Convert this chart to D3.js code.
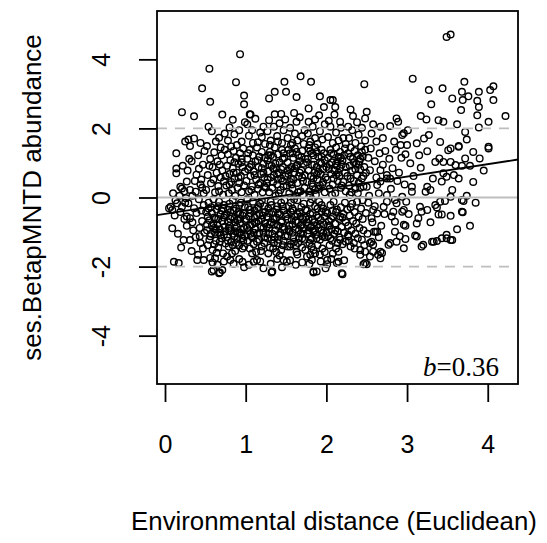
<!DOCTYPE html>
<html lang="en">
<head>
<meta charset="UTF-8">
<title>ses.BetapMNTD vs environmental distance</title>
<script src="https://cdn.jsdelivr.net/npm/d3@7"></script>
<style>
  body { margin: 0; background: #fff; }
  svg { display: block; }
  .tick-label, .axis-title { font-family: "Liberation Sans", Arial, sans-serif; fill: #000; }
  .pt { fill: none; stroke: #000; stroke-width: 1.4px; }
</style>
</head>
<body>
<svg id="chart" width="547" height="543"></svg>
<script>
// environmental distance (x) vs ses.BetapMNTD (y), grouped by x band
var band00 = [[0.14,1.28],[0.14,0.84],[0.14,0.70],[0.19,0.31],[0.21,0.26],[0.27,0.46],[0.07,-0.27],[0.09,-0.36],[0.05,-0.31],[0.15,-0.17],[0.21,-0.27],[0.09,-0.89],[0.23,-1.23],[0.11,-1.86],[0.17,-1.90],[0.21,2.47],[0.12,-0.52],[0.18,0.05],[0.24,-0.62],[0.16,-1.05],[0.22,0.92],[0.10,0.12],[0.25,1.62],[0.19,-0.42],[0.13,-0.08],[0.24,0.18],[0.20,-1.45],[0.25,-0.15]];
var band025 = [[0.29,1.68],[0.36,1.71],[0.44,1.58],[0.31,1.49],[0.36,2.35],[0.46,3.16],[0.44,0.38],[0.31,0.22],[0.38,0.17],[0.29,-0.17],[0.36,-0.31],[0.27,-0.55],[0.31,-0.60],[0.31,-1.23],[0.40,-1.81],[0.48,-1.81],
  [0.33,1.05],[0.41,1.22],[0.47,0.95],[0.28,0.78],[0.39,0.66],[0.45,0.52],[0.34,0.05],[0.42,-0.05],[0.48,-0.22],[0.26,-0.02],[0.39,-0.45],[0.46,-0.68],[0.43,-0.88],[0.35,-0.95],[0.49,-1.02],[0.38,-1.15],[0.44,-1.32],[0.47,-1.48],[0.33,-1.55],[0.41,-1.66],[0.27,-0.82],[0.48,0.12],[0.45,-0.38],[0.37,0.48],[0.42,0.83],[0.30,1.12],[0.49,1.35],[0.34,-0.72],[0.43,-1.12],[0.46,0.28]];
var band05 = [[0.55,3.73],[0.56,2.77],[0.71,2.40],[0.52,1.49],[0.69,1.45],[0.67,1.73],[0.62,-1.76],[0.58,-2.14],[0.67,-2.19],[0.71,-2.10],[0.60,-2.10],[0.68,-2.17],
  [0.58,1.92],[0.63,1.62],[0.74,1.85],[0.54,2.05],
  [0.51,0.22],[0.53,0.65],[0.56,1.12],[0.57,0.41],[0.59,0.88],[0.61,1.31],[0.62,0.15],[0.64,0.72],[0.65,1.05],[0.66,0.33],[0.68,0.95],[0.69,0.58],[0.70,1.22],[0.72,0.08],[0.73,0.47],[0.74,1.38],[0.55,0.92],[0.60,0.52],[0.67,0.18],[0.71,0.78],
  [0.51,-0.42],[0.52,-0.95],[0.53,-1.38],[0.54,-0.15],[0.55,-0.66],[0.56,-1.12],[0.57,-0.28],[0.58,-0.81],[0.59,-1.52],[0.60,-0.05],[0.61,-0.58],[0.62,-1.02],[0.63,-1.25],[0.64,-0.35],[0.65,-0.78],[0.66,-1.45],[0.67,-0.12],[0.68,-0.92],[0.69,-0.48],[0.70,-1.18],[0.71,-0.69],[0.72,-1.62],[0.73,-0.22],[0.74,-0.85],[0.75,-1.33],[0.53,-0.55],[0.57,-1.05],[0.61,-0.88],[0.64,-1.60],[0.66,-0.25],[0.70,-0.38],[0.73,-1.08],[0.56,-1.75],[0.63,-0.62],[0.68,-1.28],[0.74,-0.52],
  [0.59,-1.88],[0.65,-1.95],[0.73,-1.85]];
var band075 = [[0.93,4.15],[0.88,3.34],[0.98,2.95],[0.98,2.70],[0.80,2.03],[0.86,1.83],[0.89,1.52],[0.77,-1.71],[0.81,-1.81],[0.96,-1.86],
  [0.78,1.65],[0.84,2.25],[0.92,1.95],[0.95,1.62],[0.99,2.18],[0.82,1.48],
  [0.76,0.35],[0.77,0.92],[0.78,1.25],[0.79,0.12],[0.80,0.68],[0.81,1.08],[0.82,0.45],[0.83,0.22],[0.84,0.85],[0.85,1.35],[0.86,0.55],[0.87,0.05],[0.88,1.15],[0.89,0.72],[0.90,0.28],[0.91,0.98],[0.92,0.42],[0.93,1.28],[0.94,0.62],[0.95,0.15],[0.96,0.88],[0.97,1.42],[0.98,0.35],[0.99,0.75],[0.80,0.38],[0.86,1.02],[0.91,0.58],[0.95,1.12],
  [0.76,-0.48],[0.77,-1.15],[0.78,-0.72],[0.79,-1.42],[0.80,-0.18],[0.81,-0.95],[0.82,-1.28],[0.83,-0.55],[0.84,-0.08],[0.85,-1.05],[0.86,-0.62],[0.87,-1.55],[0.88,-0.32],[0.89,-0.85],[0.90,-1.18],[0.91,-0.42],[0.92,-1.38],[0.93,-0.75],[0.94,-0.15],[0.95,-1.08],[0.96,-0.52],[0.97,-1.25],[0.98,-0.88],[0.99,-0.28],[0.78,-0.35],[0.83,-1.62],[0.87,-0.98],[0.90,-0.65],[0.93,-1.02],[0.97,-0.45],[0.79,-0.88],[0.85,-0.38],[0.92,-0.22],[0.96,-1.48],[0.99,-1.12],[0.81,-0.62],[0.88,-1.32],[0.94,-0.92],
  [0.85,-1.92],[0.92,-1.78],[0.98,-2.02]];
var band10 = [[1.06,2.40],[1.05,2.41],[1.04,1.79],[1.10,-1.86],[1.14,-1.81],[1.15,1.60],[1.20,1.75],
  [1.02,2.12],[1.08,1.95],[1.12,2.28],[1.18,1.88],[1.22,2.05],[1.24,1.55],[1.09,1.58],
  [1.01,0.48],[1.02,1.12],[1.03,0.82],[1.04,0.18],[1.05,1.38],[1.06,0.62],[1.07,0.95],[1.08,0.32],[1.09,1.22],[1.10,0.75],[1.11,0.08],[1.12,1.05],[1.13,0.52],[1.14,1.45],[1.15,0.25],[1.16,0.88],[1.17,1.18],[1.18,0.42],[1.19,0.68],[1.20,1.32],[1.21,0.15],[1.22,0.98],[1.23,0.58],[1.24,1.15],[1.03,1.28],[1.07,0.22],[1.11,0.65],[1.16,0.38],[1.20,0.85],[1.23,0.32],
  [1.01,-0.62],[1.02,-1.25],[1.03,-0.28],[1.04,-0.95],[1.05,-1.48],[1.06,-0.45],[1.07,-1.12],[1.08,-0.78],[1.09,-0.12],[1.10,-1.35],[1.11,-0.58],[1.12,-0.92],[1.13,-1.58],[1.14,-0.32],[1.15,-1.05],[1.16,-0.68],[1.17,-1.22],[1.18,-0.18],[1.19,-0.85],[1.20,-1.42],[1.21,-0.52],[1.22,-1.02],[1.23,-0.25],[1.24,-0.75],[1.02,-0.05],[1.05,-0.82],[1.08,-1.62],[1.11,-0.38],[1.14,-1.28],[1.17,-0.48],[1.20,-0.08],[1.23,-1.15],[1.06,-1.05],[1.13,-0.72],[1.19,-1.55],[1.24,-0.42],
  [1.04,-1.95],[1.18,-1.85],[1.22,-2.05]];
var band125 = [[1.36,3.06],[1.29,2.87],[1.36,2.41],[1.29,2.24],[1.33,-2.14],[1.32,-2.17],[1.47,-1.81],[1.51,-1.86],[1.48,3.35],[1.50,3.06],[1.49,2.26],
  [1.27,1.92],[1.31,1.65],[1.35,2.05],[1.39,1.78],[1.42,2.15],[1.45,1.58],[1.47,1.95],[1.30,1.52],[1.40,1.62],[1.44,2.42],
  [1.26,0.42],[1.27,1.08],[1.28,0.75],[1.29,0.15],[1.30,1.32],[1.31,0.58],[1.32,0.92],[1.33,0.28],[1.34,1.18],[1.35,0.65],[1.36,1.45],[1.37,0.05],[1.38,0.85],[1.39,0.38],[1.40,1.25],[1.41,0.72],[1.42,1.02],[1.43,0.22],[1.44,0.55],[1.45,1.38],[1.46,0.88],[1.47,0.32],[1.48,1.15],[1.49,0.62],[1.27,0.52],[1.31,1.22],[1.34,0.45],[1.37,0.98],[1.41,0.12],[1.44,0.82],[1.47,1.28],[1.29,0.95],[1.39,0.68],[1.46,0.48],
  [1.26,-0.55],[1.27,-1.18],[1.28,-0.32],[1.29,-0.88],[1.30,-1.45],[1.31,-0.12],[1.32,-0.72],[1.33,-1.05],[1.34,-0.42],[1.35,-1.32],[1.36,-0.62],[1.37,-0.95],[1.38,-1.58],[1.39,-0.25],[1.40,-0.82],[1.41,-1.22],[1.42,-0.48],[1.43,-1.02],[1.44,-0.15],[1.45,-0.68],[1.46,-1.38],[1.47,-0.38],[1.48,-0.92],[1.49,-1.12],[1.28,-1.62],[1.32,-0.22],[1.36,-1.15],[1.40,-0.45],[1.44,-1.52],[1.48,-0.08],[1.30,-0.78],[1.38,-0.58],[1.46,-0.85],[1.34,-1.48],[1.42,-1.68],
  [1.31,-1.92],[1.39,-1.78],[1.45,-2.02]];
var band15 = [[1.68,3.51],[1.63,2.91],[1.63,2.19],
  [1.52,1.72],[1.55,2.02],[1.58,1.58],[1.61,1.85],[1.64,1.65],[1.67,2.32],[1.70,1.78],[1.73,1.95],[1.56,1.52],[1.72,1.55],[1.60,2.45],
  [1.51,0.35],[1.52,1.02],[1.53,0.68],[1.54,0.12],[1.55,1.28],[1.56,0.55],[1.57,0.88],[1.58,0.25],[1.59,1.15],[1.60,0.72],[1.61,1.42],[1.62,0.05],[1.63,0.92],[1.64,0.42],[1.65,1.22],[1.66,0.62],[1.67,1.05],[1.68,0.18],[1.69,0.78],[1.70,1.35],[1.71,0.48],[1.72,0.98],[1.73,0.28],[1.74,1.12],[1.53,1.38],[1.57,0.38],[1.61,0.85],[1.65,0.15],[1.69,1.18],[1.73,0.65],[1.55,0.82],[1.63,1.32],[1.71,0.08],[1.59,0.52],[1.67,0.72],
  [1.51,-0.48],[1.52,-1.12],[1.53,-0.25],[1.54,-0.82],[1.55,-1.42],[1.56,-0.15],[1.57,-0.65],[1.58,-1.02],[1.59,-0.38],[1.60,-1.28],[1.61,-0.55],[1.62,-0.92],[1.63,-1.58],[1.64,-0.08],[1.65,-0.72],[1.66,-1.18],[1.67,-0.42],[1.68,-1.05],[1.69,-0.28],[1.70,-1.45],[1.71,-0.62],[1.72,-0.88],[1.73,-1.22],[1.74,-0.35],[1.52,-0.62],[1.56,-1.35],[1.60,-0.05],[1.64,-1.65],[1.68,-0.55],[1.72,-0.18],[1.54,-0.98],[1.62,-1.38],[1.70,-0.78],[1.58,-0.32],[1.66,-0.95],[1.74,-1.52],
  [1.55,-1.82],[1.62,-1.95],[1.70,-1.88]];
var band175 = [[1.81,3.35],[1.78,2.58],[1.86,2.26],[1.78,2.19],[1.92,2.93],[1.97,2.62],[1.84,-2.14],[1.88,-2.14],[1.84,-2.17],[1.76,-1.71],[1.80,-1.66],[1.82,-1.81],[1.99,-2.05],
  [1.77,1.85],[1.80,1.62],[1.83,2.05],[1.86,1.72],[1.89,1.55],[1.92,1.92],[1.95,1.68],[1.98,2.12],[1.79,1.52],[1.91,2.38],
  [1.76,0.45],[1.77,1.12],[1.78,0.78],[1.79,0.18],[1.80,1.35],[1.81,0.62],[1.82,0.95],[1.83,0.32],[1.84,1.22],[1.85,0.72],[1.86,1.45],[1.87,0.08],[1.88,0.88],[1.89,0.52],[1.90,1.18],[1.91,0.25],[1.92,1.02],[1.93,0.68],[1.94,1.38],[1.95,0.38],[1.96,0.82],[1.97,1.28],[1.98,0.15],[1.99,0.58],[1.78,1.42],[1.82,0.42],[1.86,0.22],[1.90,0.75],[1.94,0.98],[1.98,1.08],[1.80,0.05],[1.88,1.32],[1.96,0.45],[1.84,0.55],[1.92,0.35],
  [1.76,-0.38],[1.77,-1.05],[1.78,-0.62],[1.79,-1.32],[1.80,-0.15],[1.81,-0.85],[1.82,-1.18],[1.83,-0.45],[1.84,-1.52],[1.85,-0.72],[1.86,-0.25],[1.87,-1.08],[1.88,-0.52],[1.89,-1.38],[1.90,-0.88],[1.91,-0.12],[1.92,-1.22],[1.93,-0.65],[1.94,-0.95],[1.95,-1.48],[1.96,-0.32],[1.97,-0.78],[1.98,-1.15],[1.99,-0.42],[1.78,-0.95],[1.82,-0.05],[1.86,-1.62],[1.90,-0.58],[1.94,-0.22],[1.98,-1.58],[1.80,-0.48],[1.88,-0.82],[1.96,-1.02],[1.84,-0.98],[1.92,-1.65],
  [1.79,-1.92],[1.93,-1.85]];
var band20 = [[2.05,2.82],[2.08,2.82],[2.11,2.62],[2.10,2.40],[2.17,2.19],[2.01,-1.81],[2.01,-1.93],[2.15,-1.57],[2.15,-1.86],[2.19,-2.19],[2.20,-2.22],[2.13,-1.90],
  [2.02,1.75],[2.05,2.05],[2.08,1.58],[2.12,1.88],[2.15,1.65],[2.18,2.02],[2.21,1.72],[2.24,1.55],[2.03,2.22],
  [2.01,0.52],[2.02,1.15],[2.03,0.82],[2.04,0.25],[2.05,1.38],[2.06,0.68],[2.07,1.02],[2.08,0.38],[2.09,1.25],[2.10,0.78],[2.11,0.12],[2.12,1.45],[2.13,0.92],[2.14,0.48],[2.15,1.18],[2.16,0.62],[2.17,1.32],[2.18,0.28],[2.19,0.95],[2.20,1.08],[2.21,0.45],[2.22,1.22],[2.23,0.72],[2.24,0.18],[2.04,0.95],[2.09,0.55],[2.14,1.05],[2.19,0.35],[2.23,1.42],[2.07,0.08],[2.12,0.65],[2.17,0.85],
  [2.01,-0.45],[2.02,-1.12],[2.03,-0.68],[2.04,-1.38],[2.05,-0.22],[2.06,-0.92],[2.07,-1.25],[2.08,-0.55],[2.09,-0.12],[2.10,-1.05],[2.11,-0.75],[2.12,-1.48],[2.13,-0.35],[2.14,-0.98],[2.16,-0.62],[2.17,-1.22],[2.18,-0.28],[2.19,-0.85],[2.20,-1.35],[2.21,-0.48],[2.22,-1.02],[2.23,-0.15],[2.24,-0.72],[2.04,-0.82],[2.08,-1.62],[2.12,-0.42],[2.16,-1.15],[2.20,-0.58],[2.24,-1.28],
  [2.06,-1.78],[2.22,-1.82]];
var band225 = [[2.47,3.28],[2.50,2.48],[2.48,2.29],[2.33,2.36],[2.27,2.05],[2.27,-1.08],[2.30,-1.42],[2.42,-1.52],[2.27,-1.13],[2.48,-1.57],[2.42,-1.66],[2.48,-1.90],[2.46,-1.93],[2.50,-1.93],
  [2.28,1.72],[2.32,1.95],[2.36,1.58],[2.40,1.82],[2.44,2.02],[2.48,1.65],[2.30,2.55],[2.38,2.18],
  [2.26,0.62],[2.27,1.28],[2.28,0.35],[2.29,0.92],[2.30,1.45],[2.31,0.15],[2.32,0.78],[2.33,1.12],[2.34,0.48],[2.35,1.35],[2.36,0.25],[2.37,0.98],[2.38,0.65],[2.39,1.22],[2.40,0.42],[2.41,1.05],[2.42,0.82],[2.43,1.48],[2.44,0.55],[2.45,1.18],[2.46,0.32],[2.47,0.88],[2.48,1.38],[2.49,0.72],[2.29,0.08],[2.34,1.02],[2.39,0.12],[2.44,1.32],[2.30,0.55],[2.42,0.28],
  [2.26,-0.35],[2.27,-0.82],[2.28,-1.25],[2.29,-0.52],[2.31,-0.95],[2.32,-0.18],[2.33,-0.68],[2.34,-1.32],[2.35,-0.42],[2.36,-1.05],[2.37,-0.75],[2.38,-0.12],[2.39,-1.18],[2.40,-0.55],[2.41,-0.88],[2.43,-0.32],[2.44,-1.22],[2.45,-0.62],[2.46,-0.95],[2.47,-1.38],[2.49,-0.45],[2.35,-1.48],[2.30,-0.28],[2.45,-0.08]];
var band25 = [[2.61,-0.99],[2.63,-0.99],[2.56,-1.28],[2.58,-1.37],[2.67,-1.57],[2.64,-1.66],[2.54,-1.71],[2.58,-0.36],[2.63,-0.46],[2.56,-0.60],[2.75,-0.12],[2.71,-0.27],[2.65,0.12],[2.75,0.07],[2.50,0.31],[2.63,0.36],[2.67,0.46],[2.75,0.55],[2.54,0.79],[2.67,0.79],[2.75,0.65],[2.58,2.12],[2.67,2.05],[2.54,-1.32],[2.69,-1.61],[2.58,-1.57],[2.67,-1.76],[2.59,-0.99],
  [2.52,1.15],[2.55,1.42],[2.60,1.05],[2.62,1.62],[2.66,1.28],[2.70,0.95],[2.73,1.35],[2.52,-0.15],[2.57,-0.72],[2.62,0.58],[2.68,-0.82],[2.72,-0.48],[2.53,0.05],[2.60,-0.25],[2.70,1.72],[2.56,1.85],[2.65,-1.15],[2.51,-1.05]];
var band275 = [[2.79,2.07],[2.87,2.29],[2.89,2.19],[2.96,1.86],[2.94,1.81],[2.85,-0.99],[2.79,-1.32],[2.87,-1.28],[2.83,-0.41],[2.85,-0.70],[2.96,-0.79],[2.94,-0.41],[2.87,-0.17],[2.85,-0.07],[2.94,0.02],[2.79,0.55],[2.96,-0.36],[2.96,-1.47],[2.77,-1.37],[2.98,-0.82],
  [2.78,1.12],[2.82,0.85],[2.86,1.38],[2.90,0.72],[2.93,1.15],[2.97,0.38],[2.80,0.25],[2.84,1.62],[2.88,0.48],[2.92,1.52],[2.98,1.25],[2.81,-0.55],[2.91,-1.12],[2.99,-0.12]];
var band30 = [[3.07,3.44],[3.27,3.11],[3.44,3.16],[3.30,2.70],[3.17,2.36],[3.24,2.26],[3.39,2.24],[3.45,2.19],[3.01,1.95],[3.27,1.81],[3.21,1.71],[3.41,1.61],[3.12,1.57],[3.00,1.52],[3.25,1.34],[3.04,0.99],[3.17,0.86],[3.35,1.03],[3.40,1.13],[3.45,1.03],[3.45,0.70],[3.49,0.60],[3.43,0.46],[3.06,0.31],[3.06,0.17],[3.25,0.31],[3.29,0.22],[3.23,0.17],[3.41,-0.12],[3.47,-0.10],[3.35,-0.22],[3.16,-0.27],[3.18,-0.41],[3.25,-0.36],[3.37,-0.29],[3.39,-0.49],[3.43,-0.49],[3.14,-0.60],[3.12,-0.75],[3.29,-0.72],[3.10,-1.10],[2.98,-1.20],[3.20,-1.37],[3.31,-1.28],[3.37,-1.26],[3.43,-1.18],[3.49,-1.08],[3.12,-1.13],[3.18,-1.42],[3.33,-1.28],[3.49,-1.18],
  [3.08,0.62],[3.15,1.22],[3.32,0.55],[3.02,-0.48]];
var band35 = [[3.49,4.65],[3.54,4.72],[3.71,3.35],[3.68,3.06],[3.76,2.93],[3.89,3.06],[3.56,2.87],[3.69,2.82],[3.87,2.80],[3.89,2.62],[3.67,2.53],[3.87,2.38],[3.62,2.12],[3.72,1.90],[3.89,2.03],[3.74,1.68],[3.64,1.49],[3.54,1.42],[3.51,1.37],[3.64,1.47],[3.82,1.32],[3.90,1.13],[3.54,1.03],[3.60,0.94],[3.68,0.92],[3.72,1.13],[3.78,0.92],[3.64,0.55],[3.56,0.22],[3.54,0.02],[3.68,-0.07],[3.74,0.05],[3.70,-0.10],[3.54,-0.53],[3.69,-0.43],[3.78,-0.82],[3.54,-1.23],[3.68,-0.41],[3.56,-1.23],
  [3.82,0.45],[3.95,0.78],[3.58,0.65],[3.85,-0.15],[3.62,-0.92]];
var band40 = [[4.03,3.11],[4.07,3.22],[4.07,2.82],[4.22,2.36],[4.01,2.19],[4.01,1.47],[4.01,1.42]];
// extra points where the cloud is solid black
var coreLow = [[0.52,-0.78],[0.55,-1.22],[0.58,-0.45],[0.61,-1.35],[0.63,-0.92],[0.66,-0.62],[0.69,-1.08],[0.72,-0.32],[0.75,-0.98],[0.78,-1.25],[0.81,-0.42],[0.84,-1.38],[0.87,-0.72],[0.90,-1.02],[0.93,-0.48],[0.96,-1.18],[0.99,-0.65],[1.02,-0.88],[1.05,-0.35],[1.08,-1.15],[1.11,-0.72],[1.14,-0.52],[1.17,-1.02],[1.20,-0.62],[1.23,-1.32],[1.26,-0.85],[1.29,-0.45],[1.32,-1.22],[1.35,-0.78],[1.38,-0.35],[1.41,-1.08],[1.44,-0.72],[1.47,-1.25],[1.50,-0.55],[1.53,-0.92],[1.56,-0.42],[1.59,-1.15],[1.62,-0.68],[1.65,-1.32],[1.68,-0.82],[1.71,-1.05],[1.74,-0.58],[1.77,-0.82],[1.80,-1.22],[1.83,-0.62],[1.86,-0.95],[1.89,-0.32],[1.92,-0.78],[1.95,-1.12],[1.98,-0.55],[2.02,-0.82],[2.05,-1.18],[2.08,-0.38],[2.11,-0.95],[2.14,-1.32],[2.17,-0.55],
  [0.54,-0.32],[0.60,-0.75],[0.67,-1.02],[0.73,-0.58],[0.80,-0.82],[0.86,-1.12],[0.92,-0.62],[0.98,-1.42],[1.04,-0.55],[1.10,-1.02],[1.16,-0.28],[1.22,-0.88],[1.28,-1.05],[1.34,-0.62],[1.40,-1.32],[1.46,-0.25],[1.52,-1.42],[1.58,-0.78],[1.64,-0.48],[1.70,-1.18],[1.76,-0.72],[1.82,-1.42],[1.88,-1.18],[1.94,-0.42],[2.00,-1.02],[2.06,-0.62]];
var coreHigh = [[1.22,0.72],[1.28,1.22],[1.34,0.85],[1.40,0.52],[1.46,1.12],[1.52,0.78],[1.58,1.28],[1.64,0.95],[1.70,0.58],[1.76,1.02],[1.82,1.28],[1.88,0.65],[1.94,1.18],[2.00,0.88],[2.06,1.28],[2.12,0.98],[2.18,1.15],[2.24,0.88],[2.30,1.18],[2.36,0.82],[2.42,1.12],[2.46,0.62],[1.25,0.28],[1.55,0.45],[1.85,0.95],[2.15,0.72],[2.40,0.95],[0.85,0.72],[0.95,1.02],[1.05,0.88],[1.15,1.08],[0.75,0.62]];

var slopeB = 0.36, interceptA = -0.475;   // fitted line, b = 0.36
var xTicks = [0, 1, 2, 3, 4];
var yTicks = [-4, -2, 0, 2, 4];
var refLinesDashed = [-2, 2];
var xLabel = "Environmental distance (Euclidean)";
var yLabel = "ses.BetapMNTD abundance";

var points = [].concat(band00, band025, band05, band075, band10, band125, band15, band175,
  band20, band225, band25, band275, band30, band35, band40, coreLow, coreHigh);

var svg = d3.select("#chart");
var plotL = 157, plotR = 518, plotT = 11, plotB = 384;

var x = d3.scaleLinear().domain([-0.0992, 4.375]).range([plotL, plotR]);
var y = d3.scaleLinear().domain([-5.4, 5.4]).range([plotB, plotT]);

// points
svg.append("g").selectAll("circle")
  .data(points)
  .join("circle")
  .attr("class", "pt")
  .attr("cx", function(d) { return x(d[0]); })
  .attr("cy", function(d) { return y(d[1]); })
  .attr("r", 3.3);

// reference lines
svg.append("line")
  .attr("x1", plotL).attr("x2", plotR)
  .attr("y1", y(0)).attr("y2", y(0))
  .attr("stroke", "#bebebe").attr("stroke-width", 1.8);

svg.append("g").selectAll("line")
  .data(refLinesDashed)
  .join("line")
  .attr("x1", plotL).attr("x2", plotR)
  .attr("y1", function(d) { return y(d); }).attr("y2", function(d) { return y(d); })
  .attr("stroke", "#bebebe").attr("stroke-width", 1.8)
  .attr("stroke-dasharray", "10,8");

// regression line
var xd = x.domain();
svg.append("line")
  .attr("x1", x(xd[0])).attr("x2", x(xd[1]))
  .attr("y1", y(interceptA + slopeB * xd[0]))
  .attr("y2", y(interceptA + slopeB * xd[1]))
  .attr("stroke", "#000").attr("stroke-width", 1.8);

// box
svg.append("rect")
  .attr("x", plotL).attr("y", plotT)
  .attr("width", plotR - plotL).attr("height", plotB - plotT)
  .attr("fill", "none").attr("stroke", "#000").attr("stroke-width", 1.8);

// x axis
var xAxis = d3.axisBottom(x).tickValues(xTicks).tickSize(18).tickPadding(0).tickFormat(d3.format("d"));
var gx = svg.append("g").attr("transform", "translate(0," + plotB + ")").call(xAxis);
gx.select(".domain").remove();
gx.selectAll(".tick line").attr("stroke", "#000").attr("stroke-width", 1.8);
gx.selectAll(".tick text")
  .attr("class", "tick-label")
  .attr("y", 69).attr("dy", null)
  .style("font-size", "25px");

// y axis
var yAxis = d3.axisLeft(y).tickValues(yTicks).tickSize(18).tickPadding(0).tickFormat(d3.format("d"));
var gy = svg.append("g").attr("transform", "translate(" + plotL + ",0)").call(yAxis);
gy.select(".domain").remove();
gy.selectAll(".tick line").attr("stroke", "#000").attr("stroke-width", 1.8);
gy.selectAll(".tick text")
  .attr("class", "tick-label")
  .attr("x", null).attr("dy", null)
  .attr("text-anchor", "middle")
  .attr("transform", "translate(-47,0) rotate(-90)")
  .style("font-size", "25px")
  .text(function(d) { return d < 0 ? "-" + Math.abs(d) : d; });

// axis titles
svg.append("text")
  .attr("class", "axis-title")
  .attr("x", 334).attr("y", 530)
  .attr("text-anchor", "middle")
  .style("font-size", "25.8px")
  .text(xLabel);

svg.append("text")
  .attr("class", "axis-title")
  .attr("transform", "translate(41," + y(0) + ") rotate(-90)")
  .attr("text-anchor", "middle")
  .style("font-size", "26px")
  .text(yLabel);

// slope annotation
var ann = svg.append("text")
  .attr("x", 499).attr("y", 376)
  .attr("text-anchor", "end")
  .style("font-family", "'Liberation Serif', 'Times New Roman', serif")
  .style("font-size", "27px");
ann.append("tspan").style("font-style", "italic").text("b");
ann.append("tspan").text("=" + slopeB.toFixed(2));
</script>
</body>
</html>
